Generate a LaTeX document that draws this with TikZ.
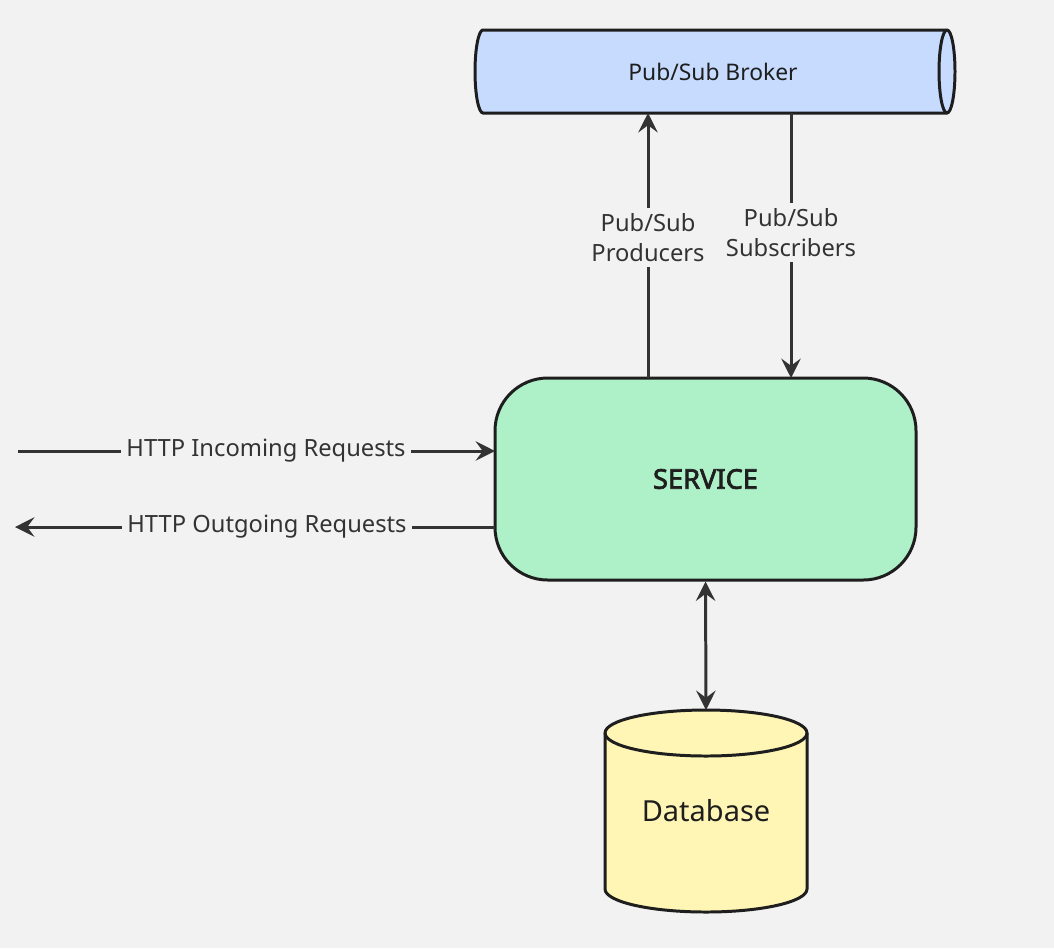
\documentclass[tikz,border=0pt]{standalone}
\usepackage{fontspec}
\setmainfont{Noto Sans}
\newfontfamily\heavy{Noto Sans}[FakeBold=2.5]
\usetikzlibrary{arrows.meta}
\definecolor{bg}{HTML}{F2F2F2}
\definecolor{ink}{HTML}{1E1E1E}
\definecolor{wire}{HTML}{333333}
\definecolor{brokerblue}{HTML}{C6DBFE}
\definecolor{servicegreen}{HTML}{AEF0C8}
\definecolor{dbyellow}{HTML}{FFF6B6}
\begin{document}
\begin{tikzpicture}[x=0.02cm,y=-0.02cm]
\tikzset{box/.style={draw=ink,line width=1.7pt,text=ink},
  tip/.style={Stealth[length=11pt,width=11pt,inset=4pt]},
  wirestyle/.style={draw=wire,line width=1.7pt,-{Stealth[length=11pt,width=11pt,inset=4pt]}},
  lbl/.style={fill=bg,text=wire,font=\fontsize{13.5}{17}\selectfont,align=center,inner sep=3pt}}
\fill[bg] (0,0) rectangle (1054,948);
% broker: horizontal tube
\draw [box,fill=brokerblue] (483,30) -- (947,30) arc[start angle=90,end angle=-90,x radius=8,y radius=-41.5]
  -- (483,113) arc[start angle=270,end angle=90,x radius=8,y radius=-41.5] -- cycle;
\draw [box] (947,30) arc[start angle=90,end angle=270,x radius=8,y radius=-41.5];
\node [text=ink,font=\fontsize{13}{15}\selectfont] (broker) at (713,72) {Pub/Sub Broker};
% service
\node [box,rounded corners=30pt,fill=servicegreen,minimum width=421*0.02cm,minimum height=202*0.02cm,
  font=\fontsize{15.5}{18}\selectfont\heavy] (service) at (705.5,479) {SERVICE};
% database: vertical cylinder
\draw [box,fill=dbyellow] (605,733) -- (605,889) arc[start angle=180,end angle=360,x radius=101,y radius=-23]
  -- (807,733) arc[start angle=0,end angle=180,x radius=101,y radius=-23] -- cycle;
\draw [box] (605,733) arc[start angle=180,end angle=360,x radius=101,y radius=-23];
\node [text=ink,font=\fontsize{16.5}{19}\selectfont] (db) at (706,811) {Database};
\coordinate (dbtop) at (706,710);
\coordinate (brokerout) at (648,113);
\coordinate (brokerin) at (791,113);
\coordinate (prodstart) at (648,378);
\coordinate (subend) at (791,378);
\coordinate (inleft) at (18,451);
\coordinate (inright) at (495,451);
\coordinate (outleft) at (15,527);
\coordinate (outright) at (495,527);
\draw [wirestyle] (prodstart) -- node [lbl,pos=0.53] {Pub/Sub\\Producers} (brokerout);
\draw [wirestyle] (brokerin) -- node [lbl,pos=0.45] {Pub/Sub\\Subscribers} (subend);
\draw [wirestyle] (inleft) -- node [lbl,pos=0.52] {HTTP Incoming Requests} (inright);
\draw [wirestyle] (outright) -- node [lbl,pos=0.475] {HTTP Outgoing Requests} (outleft);
\draw [wirestyle,{Stealth[length=11pt,width=11pt,inset=4pt]}-{Stealth[length=11pt,width=11pt,inset=4pt]}] (service.south) -- (dbtop);
\end{tikzpicture}
\end{document}
